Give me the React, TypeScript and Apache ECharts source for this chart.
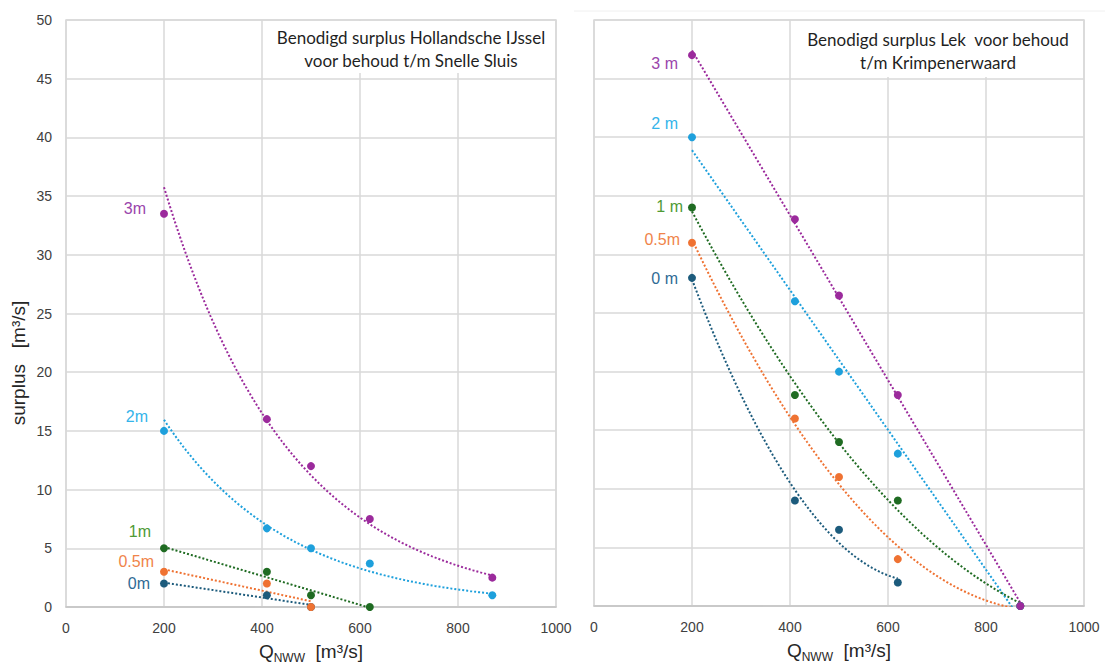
import React, { useEffect, useRef } from "react";
import * as echarts from "echarts";

// ---------- Data ----------
// Left panel: Hollandsche IJssel (t/m Snelle Sluis)
const hijX3m = [200, 410, 500, 620, 870];
const hijY3m = [33.5, 16, 12, 7.5, 2.5];
const hijX2m = [200, 410, 500, 620, 870];
const hijY2m = [15, 6.7, 5, 3.7, 1];
const hijX1m = [200, 410, 500, 620];
const hijY1m = [5, 3, 1, 0];
const hijX05m = [200, 410, 500];
const hijY05m = [3, 2, 0];
const hijX0m = [200, 410, 500];
const hijY0m = [2, 1, 0];

// Right panel: Lek (t/m Krimpenerwaard)
const lekX3m = [200, 410, 500, 620, 870];
const lekY3m = [47, 33, 26.5, 18, 0];
const lekX2m = [200, 410, 500, 620, 870];
const lekY2m = [40, 26, 20, 13, 0];
const lekX1m = [200, 410, 500, 620, 870];
const lekY1m = [34, 18, 14, 9, 0];
const lekX05m = [200, 410, 500, 620, 870];
const lekY05m = [31, 16, 11, 4, 0];
const lekX0m = [200, 410, 500, 620];
const lekY0m = [28, 9, 6.5, 2];

const levelNamesLeft = ["3m", "2m", "1m", "0.5m", "0m"];
const levelNamesRight = ["3 m", "2 m", "1 m", "0.5m", "0 m"];
const xTicks = [0, 200, 400, 600, 800, 1000];
const yTicks = [0, 5, 10, 15, 20, 25, 30, 35, 40, 45, 50];

const titleLeft = "Benodigd surplus Hollandsche IJssel\nvoor behoud t/m Snelle Sluis";
const titleRight = "Benodigd surplus Lek  voor behoud\nt/m Krimpenerwaard";

// ---------- trendline fits (as the spreadsheet trendlines) ----------
function linFit(xs: number[], ys: number[]) {
  const n = xs.length;
  const mx = xs.reduce((a, b) => a + b, 0) / n;
  const my = ys.reduce((a, b) => a + b, 0) / n;
  let sxy = 0, sxx = 0;
  for (let i = 0; i < n; i++) {
    sxy += (xs[i] - mx) * (ys[i] - my);
    sxx += (xs[i] - mx) * (xs[i] - mx);
  }
  const b = sxy / sxx;
  const a = my - b * mx;
  return (x: number) => a + b * x;
}
function expFit(xs: number[], ys: number[]) {
  const f = linFit(xs, ys.map((v) => Math.log(v)));
  return (x: number) => Math.exp(f(x));
}
function poly2Fit(xs: number[], ys: number[]) {
  const s = [0, 0, 0, 0, 0];
  const t = [0, 0, 0];
  for (let i = 0; i < xs.length; i++) {
    for (let k = 0; k < 5; k++) s[k] += Math.pow(xs[i], k);
    for (let k = 0; k < 3; k++) t[k] += ys[i] * Math.pow(xs[i], k);
  }
  const M = [
    [s[0], s[1], s[2], t[0]],
    [s[1], s[2], s[3], t[1]],
    [s[2], s[3], s[4], t[2]],
  ];
  for (let c = 0; c < 3; c++) {
    let p = c;
    for (let r = c + 1; r < 3; r++) if (Math.abs(M[r][c]) > Math.abs(M[p][c])) p = r;
    [M[c], M[p]] = [M[p], M[c]];
    for (let r = 0; r < 3; r++) {
      if (r === c) continue;
      const f = M[r][c] / M[c][c];
      for (let k = c; k < 4; k++) M[r][k] -= f * M[c][k];
    }
  }
  const c0 = M[0][3] / M[0][0];
  const c1 = M[1][3] / M[1][1];
  const c2 = M[2][3] / M[2][2];
  return (x: number) => c0 + c1 * x + c2 * x * x;
}
function sampleFit(fn: (x: number) => number, xs: number[]) {
  const x0 = Math.min(...xs);
  const x1 = Math.max(...xs);
  const out: number[][] = [];
  const steps = 120;
  for (let i = 0; i <= steps; i++) {
    const x = x0 + ((x1 - x0) * i) / steps;
    out.push([x, fn(x)]);
  }
  return out;
}

const pointColors = ["#9b2a9c", "#1ea0dc", "#1f6b22", "#ef7232", "#1c5b7c"];
const labelColors = ["#9a45ac", "#34b4ea", "#4f9a35", "#f0844a", "#2f6b95"];

export default function App() {
  const ref = useRef<HTMLDivElement>(null);
  useEffect(() => {
    document.body.style.margin = "0";
    if (!ref.current) return;
    const chart = echarts.init(ref.current, null, { renderer: "svg" });

    const leftSets = [
      { xs: hijX3m, ys: hijY3m, fit: expFit, lab: { distance: 14, dy: -5 } },
      { xs: hijX2m, ys: hijY2m, fit: expFit, lab: { distance: 12, dy: -14 } },
      { xs: hijX1m, ys: hijY1m, fit: linFit, lab: { distance: 9, dy: -17 } },
      { xs: hijX05m, ys: hijY05m, fit: linFit, lab: { distance: 6, dy: -10 } },
      { xs: hijX0m, ys: hijY0m, fit: linFit, lab: { distance: 10, dy: 0 } },
    ];
    const rightSets = [
      { xs: lekX3m, ys: lekY3m, fit: linFit, lab: { distance: 10, dy: 8 } },
      { xs: lekX2m, ys: lekY2m, fit: linFit, lab: { distance: 10, dy: -14 } },
      { xs: lekX1m, ys: lekY1m, fit: poly2Fit, lab: { distance: 5, dy: -1 } },
      { xs: lekX05m, ys: lekY05m, fit: poly2Fit, lab: { distance: 8, dy: -3 } },
      { xs: lekX0m, ys: lekY0m, fit: poly2Fit, lab: { distance: 10, dy: 1 } },
    ];

    const series: any[] = [];
    const build = (sets: any[], names: string[], axis: number) => {
      sets.forEach((s, i) => {
        series.push({
          type: "line",
          xAxisIndex: axis,
          yAxisIndex: axis,
          data: sampleFit(s.fit(s.xs, s.ys), s.xs),
          showSymbol: false,
          symbol: "none",
          clip: true,
          lineStyle: { color: pointColors[i], width: 2, type: [2, 2] },
          z: 2,
          silent: true,
        });
      });
      for (let i = sets.length - 1; i >= 0; i--) {
        const s = sets[i];
        series.push({
          type: "scatter",
          xAxisIndex: axis,
          yAxisIndex: axis,
          symbolSize: 8,
          itemStyle: { color: pointColors[i], opacity: 1 },
          z: 3,
          data: s.xs.map((x: number, j: number) =>
            j === 0
              ? {
                  value: [x, s.ys[j]],
                  label: {
                    show: true,
                    formatter: names[i],
                    position: "left",
                    distance: s.lab.distance,
                    offset: [0, s.lab.dy],
                    color: labelColors[i],
                    fontSize: 16,
                    fontFamily: "Liberation Sans, Arial, sans-serif",
                  },
                }
              : [x, s.ys[j]]
          ),
        });
      }
    };
    build(leftSets, levelNamesLeft, 0);
    build(rightSets, levelNamesRight, 1);

    const axisFont = { color: "#404040", fontSize: 14, fontFamily: "Liberation Sans, Arial, sans-serif" };
    const xName = "Q{sub|NWW}  [m³/s]";
    const xNameStyle = {
      color: "#262626",
      fontSize: 19,
      fontFamily: "Liberation Sans, Arial, sans-serif",
      lineHeight: 24,
      rich: {
        sub: {
          fontSize: 12,
          color: "#262626",
          fontFamily: "Liberation Sans, Arial, sans-serif",
          verticalAlign: "bottom",
          lineHeight: 24,
          padding: [10, 0, 0, 0],
        },
      },
    };
    const makeX = (idx: number) => ({
      type: "value",
      gridIndex: idx,
      min: xTicks[0],
      max: xTicks[xTicks.length - 1],
      interval: 200,
      axisTick: { show: false },
      axisLine: { show: true, lineStyle: { color: "#c4c4c4", width: 1.5 } },
      axisLabel: { ...axisFont, margin: 14, formatter: (v: number) => String(v) },
      splitLine: { show: true, lineStyle: { color: "#d9d9d9", width: 1.5 } },
      name: xName,
      nameLocation: "middle",
      nameGap: 30,
      nameTextStyle: xNameStyle,
    });
    const makeY = (idx: number, showLabels: boolean) => ({
      type: "value",
      gridIndex: idx,
      min: yTicks[0],
      max: yTicks[yTicks.length - 1],
      interval: 5,
      axisTick: { show: false },
      axisLine: { show: false },
      axisLabel: { ...axisFont, show: showLabels, margin: 14, formatter: (v: number) => String(v) },
      splitLine: { show: true, lineStyle: { color: "#d9d9d9", width: 1.5 } },
    });

    const titleFont = { fontSize: 17, fontFamily: "Lato, 'Noto Sans', sans-serif", fill: "#1f1f1f", lineHeight: 23 };

    chart.setOption({
      animation: false,
      backgroundColor: "#ffffff",
      grid: [
        { left: 66, top: 20, width: 490, bottom: 57, outerBoundsMode: "none", containLabel: false, show: true, borderColor: "#d9d9d9", borderWidth: 1.5, backgroundColor: "transparent" },
        { left: 594, top: 20, width: 490, bottom: 58, outerBoundsMode: "none", containLabel: false, show: true, borderColor: "#d9d9d9", borderWidth: 1.5, backgroundColor: "transparent" },
      ],
      xAxis: [makeX(0), makeX(1)],
      yAxis: [makeY(0, true), makeY(1, false)],
      series,
      graphic: [
        {
          type: "line",
          z: 10,
          shape: { x1: 574, y1: 11, x2: 1105, y2: 11 },
          style: { stroke: "#f0f0f0", lineWidth: 1 },
          silent: true,
        },
        { type: "rect", z: 10, shape: { x: 268, y: 21, width: 287, height: 52 }, style: { fill: "#ffffff" }, silent: true },
        {
          type: "text",
          z: 11,
          x: 411,
          y: 49,
          style: { ...titleFont, text: titleLeft, align: "center", verticalAlign: "middle" },
        },
        { type: "rect", z: 10, shape: { x: 800, y: 21, width: 283, height: 56 }, style: { fill: "#ffffff" }, silent: true },
        {
          type: "text",
          z: 11,
          x: 938,
          y: 51,
          style: { ...titleFont, text: titleRight, align: "center", verticalAlign: "middle" },
        },
        {
          type: "text",
          z: 11,
          x: 18,
          y: 363,
          rotation: Math.PI / 2,
          style: {
            text: "surplus   [m³/s]",
            fontSize: 19,
            fontFamily: "Liberation Sans, Arial, sans-serif",
            fill: "#262626",
            align: "center",
            verticalAlign: "middle",
          },
        },
      ],
    });
    return () => chart.dispose();
  }, []);
  return <div ref={ref} style={{ width: 1105, height: 664 }} />;
}
